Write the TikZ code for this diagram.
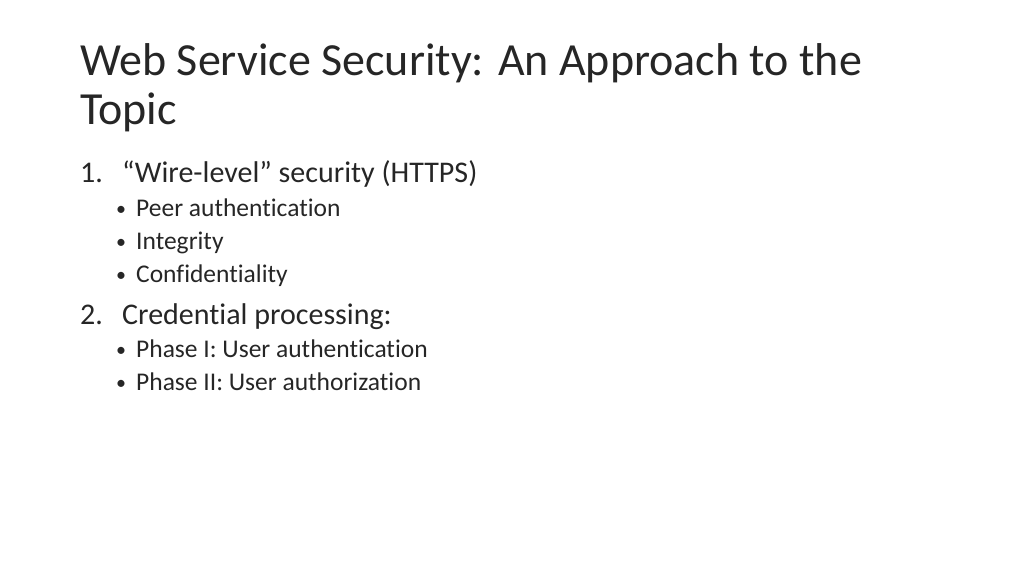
\documentclass[tikz,border=0pt]{standalone}
\usepackage{fontspec}
\setmainfont[Ligatures={NoCommon}]{Carlito}
\begin{document}
\begin{tikzpicture}[x=1pt,y=-1pt,
  txt/.style={anchor=base west,inner sep=0pt,text=black!85},
  ttl/.style={txt,font=\fontsize{46}{52}\selectfont},
  lvl1/.style={txt,font=\fontsize{30}{34}\selectfont},
  lvl2/.style={txt,font=\fontsize{25.5}{30}\selectfont},
  bul/.style={txt,font=\fontsize{20}{24}\selectfont}]
\useasboundingbox (0,0) rectangle (1024,576);
\node[ttl] (t1) at (80,75) {Web Service Security: An Approach to the};
\node[ttl] (t2) at (80,124) {Topic};
\node[lvl1] (n1) at (80,182) {1.};
\node[lvl1] (i1) at (122,182) {“Wire-level” security (HTTPS)};
\node[bul] (b1) at (116,215) {•};
\node[lvl2] (s1) at (136,216) {Peer authentication};
\node[bul] (b2) at (116,248) {•};
\node[lvl2] (s2) at (136,249) {Integrity};
\node[bul] (b3) at (116,281) {•};
\node[lvl2] (s3) at (136,282) {Confidentiality};
\node[lvl1] (n2) at (80,324) {2.};
\node[lvl1] (i2) at (122,324) {Credential processing:};
\node[bul] (b4) at (116,356) {•};
\node[lvl2] (s4) at (136,357) {Phase I: User authentication};
\node[bul] (b5) at (116,389) {•};
\node[lvl2] (s5) at (136,390) {Phase II: User authorization};
\end{tikzpicture}
\end{document}
